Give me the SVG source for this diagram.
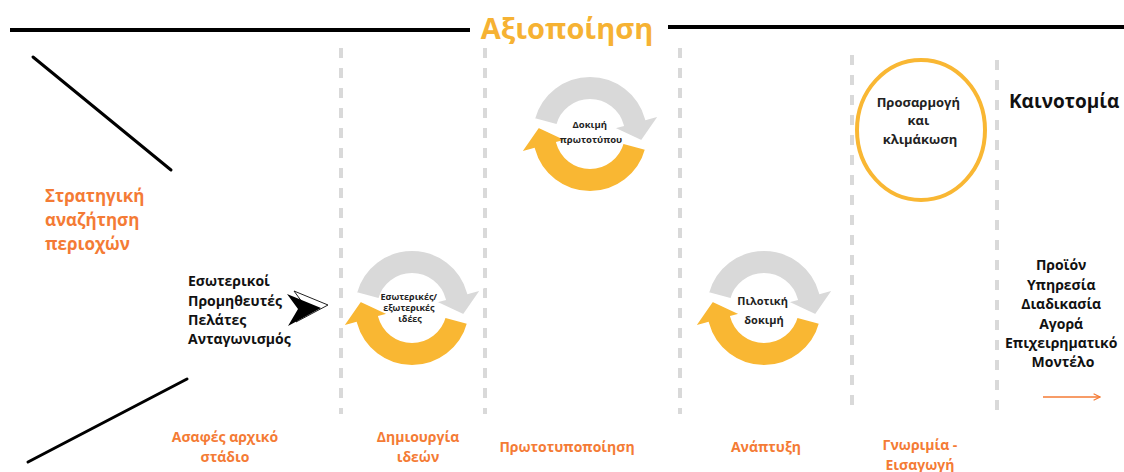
<svg xmlns="http://www.w3.org/2000/svg" xmlns:xlink="http://www.w3.org/1999/xlink" width="1124" height="472" viewBox="0 0 1124 472">
  <style>
    .stage { fill: #F47B35; font-family: "Open Sans", "Noto Sans", sans-serif; font-weight: 700; font-size: 14px; text-anchor: middle; }
    .list { fill: #111; font-family: "Open Sans", "Noto Sans", sans-serif; font-weight: 700; font-size: 14px; }
    .inner { fill: #222; font-family: "Open Sans", "Noto Sans", sans-serif; font-weight: 700; text-anchor: middle; }
    .divider { stroke: #D9D9D9; stroke-width: 4; stroke-dasharray: 10 10; fill: none; }
    .rule { stroke: #000; stroke-width: 4; fill: none; }
    .diag { stroke: #000; stroke-width: 3; stroke-linecap: round; fill: none; }
  </style>
  <defs>
    <!-- two-arrow cycle icon, centred on 0,0 -->
    <g id="cycle">
      <path fill="#D9D9D9" stroke="#fff" stroke-width="2"
            d="M -56.02 -15.01 A 58 58 0 0 1 56.02 -15.01 L 69.55 -18.64 L 51.49 7.24 L 23.18 -6.21 L 32.84 -8.80 A 34 34 0 0 0 -32.84 -8.80 Z"/>
      <path fill="#F9B733" stroke="#fff" stroke-width="2"
            d="M 56.02 15.01 A 58 58 0 0 1 -56.02 15.01 L -69.55 18.64 L -51.49 -7.24 L -23.18 6.21 L -32.84 8.80 A 34 34 0 0 0 32.84 8.80 Z"/>
    </g>
    <marker id="openHead" viewBox="0 0 10 10" refX="9" refY="5" markerWidth="8" markerHeight="8" orient="auto" markerUnits="userSpaceOnUse">
      <path d="M 1 1 L 9 5 L 1 9" fill="none" stroke="#F47B35" stroke-width="1.4"/>
    </marker>
  </defs>

  <rect width="1124" height="472" fill="#fff"/>

  <!-- title bar -->
  <g id="title">
    <line class="rule" x1="10" y1="30" x2="470" y2="30"/>
    <line class="rule" x1="668" y1="27" x2="1124" y2="27"/>
    <text x="567" y="39" text-anchor="middle" font-family="'Open Sans', 'Noto Sans', sans-serif" font-weight="700" font-size="29" fill="#F6B233">Αξιοποίηση</text>
  </g>

  <!-- stage dividers -->
  <g id="dividers">
    <line class="divider" x1="341" y1="48" x2="341" y2="414"/>
    <line class="divider" x1="485" y1="48" x2="485" y2="414"/>
    <line class="divider" x1="680" y1="48" x2="680" y2="414"/>
    <line class="divider" x1="852" y1="55" x2="852" y2="412"/>
    <line class="divider" x1="997" y1="60" x2="997" y2="414"/>
  </g>

  <!-- funnel edges -->
  <g id="connectors">
    <line class="diag" x1="33" y1="57" x2="171" y2="170"/>
    <line class="diag" x1="28" y1="462" x2="187" y2="379"/>
    <line x1="1043" y1="397" x2="1100" y2="397" stroke="#F47B35" stroke-width="1.4" marker-end="url(#openHead)"/>
  </g>

  <g id="search">
    <text fill="#F47B35" font-family="'Open Sans', 'Noto Sans', sans-serif" font-weight="700" font-size="17">
      <tspan x="45" y="202">Στρατηγική</tspan>
      <tspan x="45" y="226">αναζήτηση</tspan>
      <tspan x="45" y="250">περιοχών</tspan>
    </text>
  </g>

  <g id="sources">
    <text class="list">
      <tspan x="188" y="286">Εσωτερικοί</tspan>
      <tspan x="188" y="306">Προμηθευτές</tspan>
      <tspan x="188" y="325">Πελάτες</tspan>
      <tspan x="188" y="344">Ανταγωνισμός</tspan>
    </text>
  </g>

  <g id="input-arrow">
    <polygon points="294,291 328,305 296,322 305,306" fill="#fff" stroke="#222" stroke-width="1"/>
    <polygon points="287,294 321,308 288,326 298,309" fill="#000"/>
  </g>

  <g id="ideas">
    <use xlink:href="#cycle" href="#cycle" transform="translate(412,308)"/>
    <text class="inner" font-size="9">
      <tspan x="410" y="300">Εσωτερικές/</tspan>
      <tspan x="410" y="311">εξωτερικές</tspan>
      <tspan x="410" y="322">ιδέες</tspan>
    </text>
  </g>

  <g id="prototype-test">
    <use xlink:href="#cycle" href="#cycle" transform="translate(590,134)"/>
    <text class="inner" font-size="9.5">
      <tspan x="591" y="128">Δοκιμή</tspan>
      <tspan x="591" y="143">πρωτοτύπου</tspan>
    </text>
  </g>

  <g id="pilot">
    <use xlink:href="#cycle" href="#cycle" transform="translate(764,308)"/>
    <text class="inner" font-size="11">
      <tspan x="764" y="305">Πιλοτική</tspan>
      <tspan x="764" y="324">δοκιμή</tspan>
    </text>
  </g>

  <g id="scaling">
    <ellipse cx="921" cy="130" rx="64" ry="70" fill="#fff" stroke="#F9B733" stroke-width="4"/>
    <text class="inner" font-size="13">
      <tspan x="920" y="107">Προσαρμογή</tspan>
      <tspan x="920" y="125">και</tspan>
      <tspan x="920" y="144">κλιμάκωση</tspan>
    </text>
  </g>

  <g id="innovation">
    <text x="1009" y="108" fill="#111" font-family="'Open Sans', 'Noto Sans', sans-serif" font-weight="700" font-size="19">Καινοτομία</text>
    <text class="list" text-anchor="middle">
      <tspan x="1063" y="270">Προϊόν</tspan>
      <tspan x="1063" y="290">Υπηρεσία</tspan>
      <tspan x="1063" y="309">Διαδικασία</tspan>
      <tspan x="1063" y="329">Αγορά</tspan>
      <tspan x="1063" y="348">Επιχειρηματικό</tspan>
      <tspan x="1063" y="367">Μοντέλο</tspan>
    </text>
  </g>

  <!-- stage names -->
  <g id="stages">
    <text class="stage"><tspan x="225" y="442">Ασαφές αρχικό</tspan><tspan x="225" y="462">στάδιο</tspan></text>
    <text class="stage"><tspan x="418" y="442">Δημιουργία</tspan><tspan x="418" y="462">ιδεών</tspan></text>
    <text class="stage" x="567" y="452">Πρωτοτυποποίηση</text>
    <text class="stage" x="766" y="452">Ανάπτυξη</text>
    <text class="stage"><tspan x="920" y="450">Γνωριμία -</tspan><tspan x="920" y="470">Εισαγωγή</tspan></text>
  </g>
</svg>
